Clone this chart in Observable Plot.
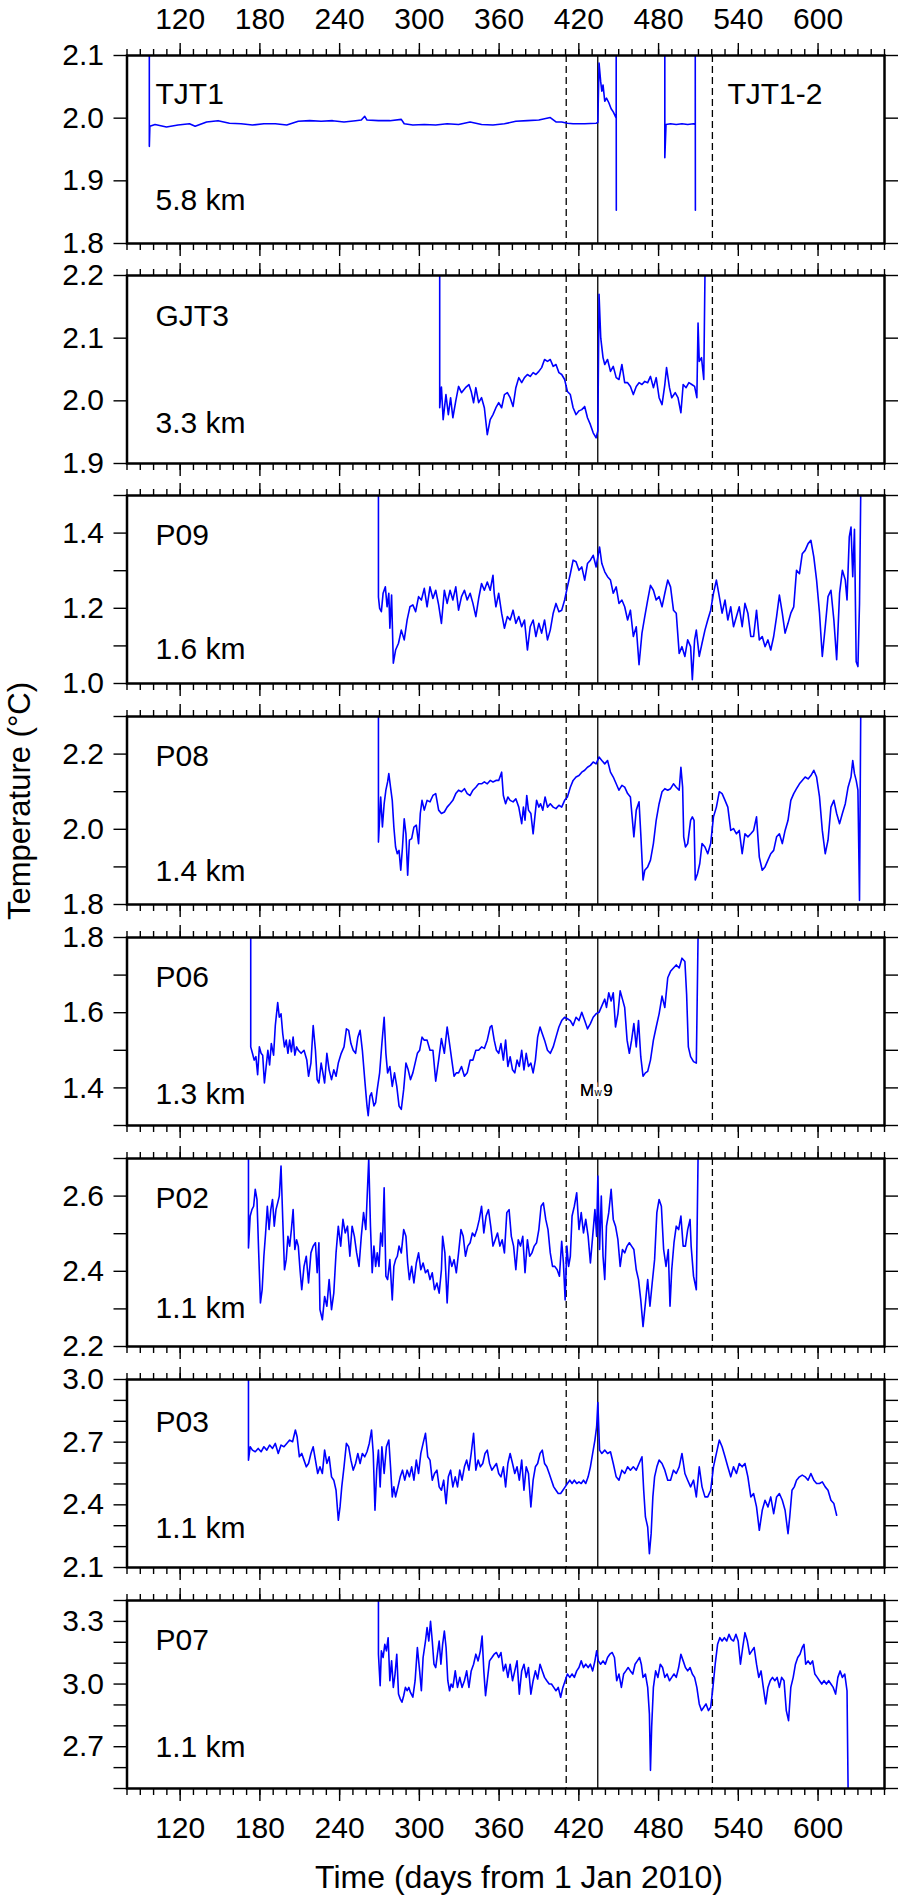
<!DOCTYPE html>
<html><head><meta charset="utf-8">
<script src="https://cdn.jsdelivr.net/npm/d3@7"></script>
<script src="https://cdn.jsdelivr.net/npm/@observablehq/plot@0.6"></script>
<style>
html,body{margin:0;padding:0;background:#fff;}
#chart{position:relative;width:898px;height:1898px;font-family:"Liberation Sans",Arial,Helvetica,sans-serif;color:#000;overflow:hidden;}
.panel{position:absolute;left:0;}
.panel svg{display:block;overflow:visible;}
#ylabsvg{position:absolute;left:0;top:0;}
#xlab{position:absolute;left:219px;top:1857px;width:600px;height:40px;line-height:40px;font-size:32px;text-align:center;white-space:nowrap;}
</style></head><body><div id="chart"></div>
<script>
// ---------- tick labels / categories ----------
const xMajor = [120,180,240,300,360,420,480,540,600];
const xMinor = [80,90,100,110,120,130,140,150,160,170,180,190,200,210,220,230,240,250,260,270,280,290,300,310,320,330,340,350,360,370,380,390,400,410,420,430,440,450,460,470,480,490,500,510,520,530,540,550,560,570,580,590,600,610,620,630,640,650];
const xDomain = [80, 650];
const dashedDays = [410.5, 520.5];
const mainshockDay = 434.24;
const stations = ["TJT1","GJT3","P09","P08","P06","P02","P03","P07"];
const depths = ["5.8 km","3.3 km","1.6 km","1.4 km","1.3 km","1.1 km","1.1 km","1.1 km"];
const yDomains = [[1.8,2.1],[1.9,2.2],[1.0,1.5],[1.8,2.3],[1.3,1.8],[2.2,2.7],[2.1,3.0],[2.5,3.4]];
const yTicks = [[1.8,1.9,2.0,2.1],[1.9,2.0,2.1,2.2],[1.0,1.1,1.2,1.3,1.4,1.5],[1.8,1.9,2.0,2.1,2.2,2.3],[1.3,1.4,1.5,1.6,1.7,1.8],[2.2,2.3,2.4,2.5,2.6,2.7],[2.1,2.2,2.3,2.4,2.5,2.6,2.7,2.8,2.9,3.0],[2.5,2.6,2.7,2.8,2.9,3.0,3.1,3.2,3.3,3.4]];
const yLabels = [[1.8,1.9,2.0,2.1],[1.9,2.0,2.1,2.2],[1.0,1.2,1.4],[1.8,2.0,2.2],[1.4,1.6,1.8],[2.2,2.4,2.6],[2.1,2.4,2.7,3.0],[2.7,3.0,3.3]];
const yTitle = "Temperature (°C)";
const xTitle = "Time (days from 1 Jan 2010)";

// ---------- series values: [day from 1 Jan 2010, temperature °C] ----------
const TJT1 = [[96.8,2.1],[96.8,1.955],[97.2,1.987],[101.1,1.99],[109.7,1.986],[118.4,1.989],[127.0,1.991],[131.3,1.987],[139.9,1.994],[148.5,1.996],[157.1,1.992],[165.8,1.991],[174.4,1.989],[183.0,1.991],[191.6,1.991],[200.2,1.989],[208.9,1.995],[217.5,1.996],[226.1,1.995],[234.7,1.996],[243.3,1.994],[252.0,1.996],[256.3,1.997],[258.9,2.003],[260.6,1.997],[269.2,1.996],[277.8,1.996],[286.4,1.998],[288.6,1.991],[295.1,1.989],[303.7,1.99],[312.3,1.989],[320.9,1.991],[329.5,1.99],[338.2,1.994],[346.8,1.99],[355.4,1.989],[364.0,1.991],[372.6,1.995],[381.3,1.996],[389.9,1.997],[398.5,2.001],[402.8,1.994],[407.1,1.994],[411.4,1.992],[415.7,1.991],[424.4,1.991],[433.0,1.992],[434.3,1.993],[435.2,2.088],[436.4,2.059],[437.3,2.043],[438.2,2.053],[439.5,2.027],[440.8,2.032],[442.5,2.025],[444.3,2.015],[445.9,2.01],[448.1,2.0],[448.1,2.1],[448.2,1.853],[448.2,NaN],
[484.7,2.1],[484.7,1.937],[485.6,1.99],[489.0,1.991],[493.3,1.99],[497.6,1.991],[501.9,1.99],[506.3,1.991],[507.6,1.99],[507.6,2.1],[507.7,1.853]];

const GJT3 = [[315.3,2.2],[315.3,1.989],[316.6,2.022],[317.9,1.97],[320.0,2.01],[321.8,1.978],[323.5,2.005],[325.2,1.973],[327.4,2.0],[329.5,2.023],[331.7,2.013],[334.7,2.021],[337.3,2.026],[339.0,2.015],[340.8,1.997],[342.5,2.021],[344.6,1.997],[346.8,2.005],[348.9,1.989],[351.1,1.946],[353.3,1.97],[355.4,1.978],[357.6,1.989],[359.7,1.997],[361.9,1.989],[364.0,2.01],[366.2,2.013],[368.3,2.005],[370.5,1.991],[372.6,2.021],[374.8,2.037],[377.0,2.029],[379.1,2.037],[381.3,2.042],[383.4,2.039],[385.6,2.045],[387.7,2.042],[389.9,2.047],[392.0,2.053],[394.2,2.066],[396.4,2.063],[398.5,2.066],[400.7,2.055],[402.8,2.058],[405.0,2.045],[407.1,2.042],[409.3,2.034],[411.4,2.015],[413.6,2.01],[415.7,1.989],[417.9,1.978],[420.1,1.984],[422.2,1.986],[424.4,1.991],[426.5,1.973],[428.7,1.962],[430.8,1.949],[433.0,1.941],[434.3,1.952],[435.2,2.17],[436.5,2.1],[438.2,2.069],[439.5,2.058],[441.6,2.066],[443.8,2.047],[445.9,2.055],[448.1,2.037],[450.2,2.034],[452.4,2.058],[454.5,2.029],[456.7,2.029],[458.8,2.023],[461.0,2.01],[463.2,2.023],[465.3,2.029],[467.5,2.026],[469.6,2.031],[471.8,2.029],[473.9,2.039],[476.1,2.021],[478.2,2.037],[480.4,2.005],[482.6,1.994],[484.7,2.026],[486.0,2.053],[488.2,2.021],[489.9,2.005],[492.5,2.013],[494.6,2.005],[496.8,1.981],[498.5,2.026],[500.7,2.021],[502.8,2.029],[505.0,2.026],[507.1,2.023],[508.8,2.005],[509.7,2.124],[510.6,2.063],[512.3,2.069],[514.0,2.034],[514.9,2.2]];

const P09 = [[269.2,1.5],[269.2,1.23],[270.1,1.2],[271.4,1.191],[272.7,1.24],[274.4,1.257],[275.7,1.204],[277.0,1.24],[277.8,1.147],[279.1,1.235],[280.4,1.054],[282.1,1.089],[284.3,1.107],[286.4,1.142],[288.6,1.116],[290.8,1.169],[292.9,1.204],[295.1,1.209],[297.2,1.191],[299.4,1.231],[301.5,1.222],[303.7,1.253],[305.8,1.204],[308.0,1.257],[310.2,1.226],[312.3,1.248],[314.5,1.209],[316.6,1.16],[318.8,1.248],[320.9,1.213],[323.1,1.248],[325.2,1.222],[327.4,1.257],[329.5,1.195],[331.7,1.231],[333.9,1.248],[336.0,1.222],[338.2,1.24],[340.3,1.213],[342.5,1.178],[344.6,1.226],[346.8,1.266],[348.9,1.248],[351.1,1.27],[353.3,1.248],[355.4,1.288],[356.3,1.24],[357.6,1.204],[359.7,1.24],[361.9,1.187],[364.0,1.147],[366.2,1.178],[368.3,1.169],[370.5,1.195],[372.6,1.16],[374.8,1.178],[377.0,1.151],[379.1,1.169],[381.3,1.089],[383.4,1.151],[385.6,1.169],[387.7,1.125],[389.9,1.16],[392.0,1.134],[394.2,1.169],[396.4,1.116],[398.5,1.142],[400.7,1.187],[402.8,1.213],[405.0,1.191],[407.1,1.195],[409.3,1.222],[411.4,1.257],[413.6,1.292],[415.7,1.328],[417.9,1.324],[420.1,1.301],[422.2,1.31],[424.4,1.275],[426.5,1.319],[428.7,1.328],[430.8,1.341],[433.0,1.31],[434.3,1.337],[435.6,1.363],[437.3,1.319],[439.5,1.297],[441.6,1.284],[443.8,1.275],[445.9,1.24],[448.1,1.257],[450.2,1.213],[452.4,1.222],[454.5,1.204],[456.7,1.169],[458.8,1.195],[461.0,1.125],[463.2,1.151],[465.3,1.05],[467.5,1.134],[469.6,1.178],[471.8,1.222],[473.9,1.261],[476.1,1.248],[478.2,1.222],[480.4,1.231],[482.6,1.204],[484.7,1.24],[486.9,1.275],[489.0,1.257],[491.2,1.195],[493.3,1.187],[495.5,1.08],[497.6,1.098],[499.8,1.072],[501.9,1.116],[504.1,1.098],[505.4,1.01],[507.1,1.116],[508.4,1.142],[510.6,1.072],[512.7,1.107],[514.9,1.142],[517.0,1.169],[519.2,1.195],[521.3,1.24],[523.5,1.275],[525.7,1.231],[527.8,1.187],[530.0,1.222],[532.1,1.169],[534.3,1.204],[536.4,1.151],[538.6,1.178],[540.7,1.204],[542.9,1.151],[545.0,1.213],[547.2,1.187],[549.4,1.125],[551.5,1.125],[553.7,1.195],[555.8,1.116],[558.0,1.125],[560.1,1.098],[562.3,1.116],[564.4,1.089],[566.6,1.125],[568.8,1.178],[570.9,1.235],[573.1,1.187],[575.2,1.134],[577.4,1.16],[579.5,1.187],[581.7,1.204],[583.8,1.301],[586.0,1.292],[588.1,1.345],[590.3,1.354],[592.5,1.372],[594.6,1.381],[596.8,1.337],[598.9,1.275],[601.1,1.187],[603.2,1.072],[605.4,1.151],[607.5,1.231],[609.7,1.248],[611.9,1.169],[614.0,1.063],[616.2,1.24],[618.3,1.301],[620.5,1.275],[621.8,1.222],[623.5,1.39],[624.8,1.416],[626.1,1.284],[627.4,1.41],[628.7,1.058],[630.0,1.045],[631.2,1.213],[632.1,1.5]];

const P08 = [[269.2,2.3],[269.2,1.966],[270.9,2.086],[272.2,2.006],[273.5,2.068],[274.8,2.104],[276.1,2.126],[277.0,2.148],[278.3,2.112],[279.6,2.077],[280.8,2.006],[282.1,1.953],[283.4,1.935],[284.7,1.944],[286.0,1.891],[287.3,1.953],[288.6,2.028],[289.9,1.988],[291.2,1.878],[292.5,1.971],[294.2,1.975],[295.9,2.006],[297.7,2.011],[299.4,1.962],[300.7,2.042],[302.0,2.077],[303.7,2.051],[305.8,2.077],[308.0,2.073],[310.2,2.09],[312.3,2.095],[314.5,2.051],[316.6,2.042],[318.8,2.046],[320.9,2.059],[323.1,2.068],[325.2,2.077],[327.4,2.095],[329.5,2.104],[331.7,2.1],[333.9,2.108],[336.0,2.095],[338.2,2.09],[340.3,2.104],[342.5,2.112],[344.6,2.121],[346.8,2.121],[348.9,2.126],[351.1,2.121],[353.3,2.13],[355.4,2.126],[357.6,2.13],[359.7,2.13],[361.9,2.152],[363.2,2.09],[364.9,2.068],[366.6,2.086],[368.3,2.077],[370.5,2.073],[372.6,2.081],[374.8,2.059],[377.0,2.015],[378.3,2.059],[379.5,2.024],[380.8,2.09],[382.1,2.051],[383.9,2.042],[385.6,1.988],[386.9,2.033],[388.2,2.077],[389.9,2.059],[391.2,2.068],[392.9,2.051],[394.6,2.086],[396.4,2.059],[398.5,2.068],[400.7,2.059],[402.8,2.055],[405.0,2.064],[407.1,2.059],[409.3,2.077],[411.4,2.086],[413.6,2.112],[415.7,2.13],[417.9,2.139],[420.1,2.143],[422.2,2.152],[424.4,2.157],[426.5,2.165],[428.7,2.17],[430.8,2.179],[433.0,2.174],[435.2,2.192],[437.3,2.183],[439.5,2.174],[441.6,2.183],[443.8,2.152],[445.9,2.139],[448.1,2.121],[450.2,2.104],[452.4,2.117],[454.5,2.112],[456.7,2.095],[458.8,2.086],[460.1,2.033],[461.4,1.98],[463.2,2.051],[465.3,2.073],[466.6,1.988],[468.3,1.865],[469.6,1.891],[471.8,1.9],[473.9,1.918],[476.1,1.962],[478.2,2.024],[480.4,2.068],[482.6,2.1],[484.7,2.108],[486.9,2.104],[489.0,2.108],[491.2,2.121],[493.3,2.112],[495.5,2.104],[496.8,2.165],[498.1,2.112],[498.9,1.98],[500.2,1.953],[501.9,1.962],[504.1,2.024],[505.4,2.033],[506.7,2.024],[507.6,1.865],[509.3,1.882],[511.0,1.909],[512.7,1.962],[514.9,1.953],[517.0,1.935],[519.2,1.962],[521.3,2.033],[523.5,2.059],[525.7,2.1],[527.8,2.095],[530.0,2.077],[532.1,2.059],[534.3,1.997],[536.4,2.002],[538.6,1.988],[540.7,1.997],[542.9,1.935],[545.0,1.988],[547.2,1.98],[549.4,1.988],[551.5,1.997],[553.7,2.033],[555.8,1.926],[558.0,1.891],[560.1,1.9],[562.3,1.918],[564.4,1.935],[566.6,1.944],[568.8,1.98],[570.9,1.988],[573.1,1.962],[575.2,1.997],[577.4,2.024],[579.5,2.077],[581.7,2.095],[583.8,2.108],[586.0,2.121],[588.1,2.13],[590.3,2.139],[592.5,2.134],[594.6,2.143],[596.8,2.157],[598.9,2.139],[601.1,2.086],[603.2,1.997],[605.4,1.935],[607.5,1.971],[609.7,2.059],[611.9,2.077],[614.0,2.042],[616.2,2.015],[618.3,2.042],[620.5,2.068],[622.6,2.112],[624.8,2.139],[626.1,2.183],[627.4,2.148],[628.7,2.13],[630.0,2.104],[631.2,1.811],[632.1,2.3]];

const P06 = [[173.1,1.8],[173.1,1.509],[174.4,1.492],[175.7,1.474],[177.0,1.483],[178.3,1.435],[179.6,1.509],[180.9,1.492],[182.1,1.487],[183.4,1.413],[184.7,1.457],[186.0,1.5],[187.3,1.461],[188.6,1.518],[190.3,1.487],[191.6,1.566],[193.4,1.627],[194.6,1.588],[195.9,1.597],[197.2,1.544],[198.5,1.509],[199.8,1.527],[201.1,1.492],[202.4,1.527],[203.7,1.496],[205.0,1.535],[206.3,1.487],[207.6,1.509],[208.9,1.5],[211.0,1.492],[213.2,1.5],[215.3,1.474],[216.6,1.431],[218.4,1.466],[220.1,1.566],[221.8,1.5],[223.1,1.422],[224.4,1.413],[226.1,1.466],[227.4,1.44],[228.7,1.413],[230.4,1.492],[232.1,1.448],[233.9,1.422],[235.6,1.448],[237.3,1.431],[239.0,1.466],[241.2,1.492],[243.3,1.509],[245.1,1.557],[246.8,1.553],[248.5,1.518],[250.2,1.5],[252.0,1.492],[253.7,1.535],[255.4,1.553],[257.1,1.5],[258.9,1.422],[260.6,1.352],[261.5,1.326],[262.8,1.378],[264.0,1.387],[265.8,1.352],[267.1,1.361],[268.3,1.396],[270.1,1.44],[271.8,1.518],[273.5,1.588],[274.8,1.492],[276.1,1.44],[277.8,1.457],[279.6,1.404],[281.3,1.44],[283.0,1.404],[284.7,1.352],[286.4,1.343],[288.2,1.396],[289.9,1.466],[291.6,1.448],[293.3,1.422],[295.1,1.44],[296.8,1.466],[298.5,1.492],[300.2,1.5],[302.0,1.535],[303.7,1.527],[305.8,1.527],[308.0,1.5],[310.2,1.5],[312.3,1.418],[314.5,1.474],[316.6,1.531],[318.8,1.492],[320.9,1.562],[322.7,1.518],[324.4,1.474],[326.1,1.431],[327.8,1.44],[329.5,1.44],[331.7,1.457],[333.9,1.431],[336.0,1.44],[338.2,1.474],[340.3,1.474],[342.5,1.5],[344.6,1.5],[346.8,1.509],[348.9,1.505],[351.1,1.527],[353.3,1.562],[354.5,1.566],[356.3,1.527],[358.0,1.5],[359.7,1.492],[361.4,1.518],[363.2,1.474],[364.9,1.527],[366.6,1.457],[368.3,1.483],[370.1,1.448],[371.8,1.44],[373.5,1.474],[375.2,1.457],[377.0,1.5],[378.7,1.448],[380.4,1.492],[382.1,1.457],[383.9,1.466],[385.6,1.44],[387.3,1.474],[389.0,1.535],[390.8,1.562],[392.5,1.544],[394.2,1.527],[396.4,1.5],[398.5,1.492],[400.7,1.509],[402.8,1.535],[405.0,1.562],[407.1,1.579],[409.3,1.588],[411.4,1.584],[413.6,1.579],[415.7,1.566],[417.9,1.588],[420.1,1.579],[422.2,1.601],[424.4,1.579],[426.5,1.557],[428.7,1.571],[430.8,1.588],[433.0,1.597],[435.2,1.601],[437.3,1.618],[439.5,1.636],[440.8,1.614],[442.5,1.653],[444.3,1.631],[445.9,1.653],[447.6,1.562],[449.4,1.597],[451.1,1.658],[452.8,1.636],[454.5,1.614],[456.3,1.527],[458.0,1.492],[459.7,1.527],[461.4,1.571],[463.2,1.509],[464.9,1.579],[466.6,1.483],[468.3,1.431],[470.1,1.44],[471.8,1.444],[473.9,1.474],[476.1,1.527],[478.2,1.562],[480.4,1.597],[482.6,1.644],[484.7,1.614],[486.9,1.693],[489.0,1.71],[491.2,1.719],[493.3,1.727],[495.5,1.719],[497.6,1.745],[499.8,1.736],[501.1,1.649],[502.4,1.509],[504.1,1.483],[506.3,1.47],[508.4,1.466],[509.7,1.8]];

const P02 = [[171.4,2.7],[171.4,2.462],[172.7,2.547],[174.0,2.564],[175.3,2.573],[176.5,2.618],[177.8,2.591],[179.1,2.449],[180.4,2.316],[181.7,2.351],[183.0,2.44],[184.3,2.502],[185.6,2.573],[186.9,2.511],[188.2,2.564],[189.5,2.591],[190.8,2.52],[192.1,2.564],[193.4,2.582],[194.6,2.6],[195.9,2.68],[197.2,2.538],[198.5,2.404],[199.8,2.431],[201.1,2.493],[202.4,2.467],[203.7,2.511],[205.0,2.564],[206.3,2.458],[207.6,2.484],[208.9,2.467],[210.2,2.404],[211.5,2.351],[213.2,2.413],[214.9,2.44],[216.6,2.369],[218.4,2.449],[220.1,2.467],[221.8,2.476],[223.1,2.396],[224.4,2.476],[225.2,2.298],[227.0,2.271],[228.7,2.333],[230.4,2.307],[232.1,2.378],[233.9,2.298],[235.6,2.342],[237.3,2.449],[239.0,2.52],[240.8,2.467],[242.5,2.538],[244.2,2.502],[245.9,2.52],[247.7,2.44],[249.4,2.52],[251.1,2.493],[252.8,2.449],[254.6,2.413],[256.3,2.493],[258.0,2.556],[259.7,2.511],[261.9,2.7],[263.2,2.52],[264.5,2.396],[265.8,2.467],[267.1,2.413],[268.3,2.449],[269.6,2.413],[270.9,2.502],[272.2,2.467],[273.5,2.622],[274.8,2.387],[276.1,2.378],[277.8,2.431],[279.6,2.324],[280.8,2.413],[282.1,2.431],[283.4,2.44],[284.7,2.467],[286.4,2.449],[288.2,2.511],[289.9,2.493],[291.2,2.422],[292.5,2.378],[294.2,2.413],[295.9,2.369],[297.7,2.422],[299.4,2.449],[301.1,2.404],[302.8,2.422],[304.6,2.396],[306.3,2.404],[308.0,2.378],[309.7,2.396],[311.4,2.351],[313.2,2.369],[314.9,2.342],[316.6,2.404],[317.5,2.493],[319.2,2.449],[320.9,2.316],[322.7,2.44],[324.4,2.413],[326.1,2.431],[327.8,2.396],[329.5,2.449],[331.3,2.511],[333.0,2.493],[334.7,2.44],[336.4,2.467],[338.2,2.476],[339.9,2.502],[341.6,2.493],[343.3,2.511],[345.1,2.538],[346.8,2.573],[348.5,2.502],[350.2,2.547],[352.0,2.564],[353.7,2.52],[355.4,2.467],[357.1,2.484],[358.8,2.502],[360.6,2.467],[362.3,2.484],[364.0,2.449],[365.8,2.556],[367.5,2.564],[369.2,2.493],[370.9,2.467],[372.6,2.404],[374.4,2.484],[376.1,2.467],[377.8,2.493],[379.5,2.396],[381.3,2.484],[383.0,2.44],[384.7,2.449],[386.4,2.467],[388.2,2.476],[389.9,2.511],[391.6,2.573],[393.3,2.582],[395.1,2.538],[396.8,2.511],[398.5,2.449],[400.2,2.413],[401.9,2.413],[403.7,2.404],[405.4,2.387],[407.1,2.48],[408.4,2.422],[409.7,2.324],[411.0,2.467],[412.3,2.413],[413.6,2.44],[414.9,2.547],[416.6,2.573],[418.4,2.609],[420.1,2.511],[421.8,2.556],[423.5,2.502],[425.2,2.538],[427.0,2.493],[428.7,2.422],[430.4,2.493],[432.1,2.564],[433.4,2.493],[434.3,2.653],[435.6,2.458],[436.9,2.6],[438.2,2.44],[439.5,2.378],[440.8,2.52],[442.5,2.556],[444.3,2.618],[445.9,2.538],[447.6,2.52],[449.4,2.484],[451.1,2.413],[452.8,2.458],[454.5,2.449],[456.3,2.467],[458.0,2.476],[459.7,2.467],[461.4,2.458],[463.2,2.404],[464.9,2.378],[466.6,2.324],[468.3,2.253],[470.1,2.316],[471.8,2.378],[473.5,2.307],[475.2,2.369],[477.0,2.431],[478.7,2.556],[480.4,2.591],[482.1,2.573],[483.8,2.458],[485.6,2.413],[487.3,2.458],[488.6,2.307],[489.9,2.404],[491.6,2.476],[493.3,2.52],[495.1,2.511],[496.8,2.547],[498.5,2.467],[500.2,2.467],[501.9,2.511],[503.7,2.538],[504.5,2.467],[506.3,2.387],[508.4,2.351],[509.7,2.7]];

const P03 = [[171.4,3.0],[171.4,2.614],[172.7,2.678],[174.4,2.662],[176.5,2.654],[178.7,2.67],[180.9,2.654],[183.0,2.678],[185.2,2.662],[187.3,2.686],[189.5,2.67],[191.6,2.694],[193.8,2.646],[195.9,2.686],[198.1,2.678],[200.2,2.694],[202.4,2.71],[204.6,2.702],[206.7,2.758],[208.0,2.726],[209.7,2.63],[211.5,2.646],[213.2,2.614],[214.9,2.582],[216.6,2.598],[218.4,2.646],[220.1,2.678],[221.8,2.614],[223.5,2.55],[225.2,2.582],[227.0,2.55],[228.7,2.662],[230.4,2.598],[232.1,2.63],[233.9,2.534],[235.6,2.518],[237.3,2.47],[239.0,2.326],[240.3,2.39],[241.6,2.486],[243.3,2.582],[245.1,2.694],[246.8,2.678],[248.5,2.614],[250.2,2.566],[252.0,2.598],[253.7,2.646],[255.4,2.598],[257.1,2.646],[258.9,2.63],[260.6,2.654],[262.3,2.694],[264.0,2.758],[265.3,2.646],[266.6,2.374],[267.9,2.566],[269.2,2.662],[270.5,2.486],[271.8,2.678],[273.5,2.55],[275.2,2.678],[277.0,2.71],[278.3,2.582],[279.6,2.438],[280.8,2.486],[282.1,2.438],[283.9,2.486],[285.6,2.534],[287.3,2.566],[289.0,2.518],[290.8,2.566],[292.5,2.534],[294.2,2.582],[295.9,2.518],[297.7,2.614],[299.4,2.55],[301.1,2.646],[302.8,2.694],[304.6,2.742],[306.3,2.63],[308.0,2.614],[309.7,2.518],[311.4,2.55],[313.2,2.566],[314.9,2.486],[316.6,2.47],[318.3,2.518],[320.1,2.406],[321.8,2.534],[323.5,2.566],[325.2,2.486],[327.0,2.534],[328.7,2.486],[330.4,2.566],[332.1,2.518],[333.9,2.582],[335.6,2.614],[337.3,2.566],[339.0,2.646],[340.8,2.742],[342.5,2.566],[344.2,2.614],[345.9,2.582],[347.7,2.598],[349.4,2.646],[351.1,2.662],[352.8,2.598],[354.6,2.566],[356.3,2.582],[358.0,2.598],[359.7,2.55],[361.4,2.534],[363.2,2.582],[364.9,2.486],[366.6,2.598],[368.3,2.646],[370.1,2.598],[371.8,2.55],[373.5,2.582],[375.2,2.518],[377.0,2.614],[378.7,2.47],[380.4,2.582],[382.1,2.55],[383.9,2.39],[385.6,2.518],[387.3,2.582],[389.0,2.598],[390.8,2.646],[392.5,2.662],[394.2,2.598],[395.9,2.582],[397.7,2.55],[399.4,2.518],[401.1,2.486],[402.8,2.47],[404.5,2.454],[406.3,2.454],[408.0,2.47],[409.7,2.486],[411.4,2.502],[413.2,2.518],[414.9,2.502],[416.6,2.518],[418.4,2.502],[420.1,2.51],[421.8,2.502],[423.5,2.518],[425.2,2.502],[427.0,2.534],[428.7,2.582],[430.4,2.646],[432.1,2.71],[433.4,2.774],[434.3,2.89],[435.6,2.662],[437.3,2.646],[439.5,2.662],[441.6,2.646],[443.8,2.654],[445.9,2.598],[448.1,2.534],[450.2,2.518],[452.4,2.566],[454.5,2.55],[456.7,2.582],[458.8,2.566],[461.0,2.582],[463.2,2.566],[465.3,2.598],[467.5,2.63],[468.8,2.47],[470.1,2.342],[471.8,2.294],[473.1,2.166],[474.4,2.262],[475.7,2.438],[477.0,2.534],[478.7,2.582],[480.4,2.614],[482.6,2.598],[484.7,2.566],[486.9,2.518],[489.0,2.518],[491.2,2.566],[493.3,2.55],[495.5,2.582],[497.6,2.646],[499.8,2.55],[501.9,2.518],[504.1,2.486],[506.3,2.518],[508.4,2.438],[510.6,2.582],[512.7,2.486],[514.9,2.438],[517.0,2.438],[519.2,2.47],[521.3,2.582],[523.5,2.646],[525.7,2.71],[527.8,2.678],[530.0,2.63],[532.1,2.582],[534.3,2.534],[536.4,2.582],[538.6,2.55],[540.7,2.598],[542.9,2.582],[545.0,2.598],[547.2,2.534],[549.4,2.438],[551.5,2.454],[553.7,2.39],[555.8,2.278],[558.0,2.374],[560.1,2.422],[562.3,2.39],[564.4,2.438],[566.6,2.358],[568.8,2.438],[570.9,2.454],[573.1,2.422],[575.2,2.374],[577.4,2.262],[578.7,2.342],[580.4,2.47],[582.1,2.486],[583.8,2.518],[586.0,2.534],[588.1,2.542],[590.3,2.534],[592.5,2.518],[594.6,2.55],[596.8,2.518],[598.9,2.502],[601.1,2.502],[603.2,2.51],[605.4,2.486],[607.5,2.47],[609.7,2.422],[611.9,2.406],[614.0,2.35]];

const P07 = [[269.2,3.4],[269.2,3.143],[270.5,2.992],[271.4,3.159],[272.7,3.127],[274.0,3.19],[275.2,3.159],[276.5,3.222],[277.8,3.016],[279.1,3.111],[280.4,2.984],[281.7,3.048],[283.0,3.143],[284.3,2.952],[285.6,2.929],[286.9,2.913],[288.2,2.944],[289.5,2.984],[290.8,2.968],[292.1,2.984],[293.3,2.96],[295.1,2.937],[296.8,3.016],[298.5,3.175],[300.2,3.063],[301.5,2.968],[302.8,3.127],[304.6,3.206],[305.8,3.27],[307.1,3.206],[308.4,3.3],[309.7,3.206],[311.0,3.095],[312.3,3.079],[313.6,3.143],[314.9,3.206],[316.2,3.095],[317.5,3.19],[318.8,3.254],[320.1,3.175],[321.4,3.016],[322.7,2.968],[323.9,3.0],[325.2,2.984],[327.0,3.063],[328.7,2.984],[330.4,3.032],[332.1,2.984],[333.9,3.016],[335.6,3.063],[337.3,2.984],[339.0,3.063],[340.8,3.095],[342.5,3.143],[344.2,3.111],[345.9,3.159],[347.2,3.23],[348.5,3.063],[349.8,2.944],[351.1,3.016],[352.8,3.111],[354.6,3.127],[356.3,3.143],[358.0,3.151],[359.7,3.127],[361.4,3.151],[363.2,3.063],[364.9,3.095],[366.6,3.032],[368.3,3.095],[370.1,3.016],[371.8,3.063],[373.5,3.111],[375.2,2.952],[377.0,3.063],[378.7,3.095],[380.4,3.032],[382.1,3.079],[383.9,2.952],[385.6,3.016],[387.3,3.063],[389.0,3.024],[390.8,3.095],[392.5,3.063],[394.2,3.032],[395.9,3.016],[397.7,3.0],[399.4,3.0],[401.1,2.984],[402.8,2.968],[404.5,2.984],[406.3,2.937],[408.0,2.984],[409.7,3.016],[411.4,3.048],[413.2,3.032],[414.9,3.048],[416.6,3.032],[418.4,3.063],[420.1,3.079],[421.8,3.111],[423.5,3.079],[425.2,3.095],[427.0,3.079],[428.7,3.095],[430.4,3.063],[432.1,3.111],[433.4,3.159],[434.7,3.111],[436.4,3.095],[438.2,3.111],[439.9,3.095],[441.6,3.127],[443.3,3.143],[445.1,3.151],[446.8,3.127],[448.5,3.016],[450.2,3.048],[452.0,2.984],[453.7,3.048],[455.4,3.063],[457.1,3.079],[458.8,3.063],[460.6,3.048],[462.3,3.095],[464.0,3.111],[465.7,3.127],[467.0,3.095],[468.3,3.032],[470.1,3.048],[471.8,2.984],[473.1,2.857],[473.9,2.587],[474.8,2.794],[476.1,2.984],[477.8,3.063],[479.5,3.032],[481.3,3.095],[483.0,3.079],[484.7,3.032],[486.4,3.048],[488.2,3.016],[489.9,3.032],[491.6,3.048],[493.3,3.032],[495.1,3.079],[496.8,3.143],[498.5,3.111],[500.2,3.079],[501.9,3.063],[503.7,3.079],[505.4,3.048],[507.1,3.032],[508.8,2.984],[510.6,2.905],[512.3,2.873],[514.0,2.889],[515.7,2.905],[517.5,2.873],[519.2,2.889],[520.9,2.984],[522.6,3.095],[524.4,3.19],[526.1,3.222],[527.8,3.206],[529.5,3.222],[531.3,3.206],[533.0,3.238],[534.7,3.214],[536.4,3.206],[538.2,3.238],[539.9,3.206],[541.6,3.095],[543.3,3.175],[545.0,3.246],[546.8,3.206],[548.5,3.143],[550.2,3.159],[551.9,3.175],[553.7,3.095],[555.4,3.032],[557.1,3.063],[558.8,2.984],[560.6,2.905],[562.3,2.984],[564.0,3.016],[565.7,3.032],[567.5,3.016],[569.2,3.032],[570.9,2.984],[572.6,3.032],[574.4,3.016],[576.1,2.873],[577.8,2.825],[579.5,2.984],[581.3,3.032],[583.0,3.095],[584.7,3.127],[586.4,3.143],[588.1,3.175],[589.4,3.19],[590.7,3.095],[592.5,3.111],[594.2,3.095],[595.9,3.111],[597.6,3.048],[599.4,3.032],[601.1,3.016],[602.8,3.0],[604.5,3.016],[606.3,3.0],[608.0,3.016],[609.7,3.0],[611.4,2.984],[613.2,2.952],[614.9,3.032],[616.6,3.063],[618.3,3.032],[620.1,3.048],[621.8,2.968],[622.6,2.5]];

const series = [TJT1, GJT3, P09, P08, P06, P02, P03, P07];

// ---------- layout ----------
const W = 898, ML = 126.5, MR = 14, PH = 188;
const panelTops = [55, 274.5, 495.3, 716, 937, 1158, 1379, 1600];
const nameDy = [48, 50, 49, 49, 49, 49, 52, 49];
const depthDy = [154, 157, 163, 164, 166, 159, 158, 156];
const FONT = "'Liberation Sans', Arial, Helvetica, sans-serif";
const BLUE = "#0000ff";

const chart = document.getElementById("chart");
const fmt = d => d.toFixed(1);

series.forEach((data, i) => {
  const first = i === 0, last = i === series.length - 1;
  const mt = first ? 55 : 16;
  const mb = last ? 70 : 16;
  const marks = [
    Plot.ruleX(dashedDays, {stroke: "black", strokeWidth: 1.3, strokeDasharray: "7,4"}),
    Plot.ruleX([mainshockDay], {stroke: "black", strokeWidth: 1.3}),
    Plot.line(data, {x: d => d[0], y: d => d[1], stroke: BLUE, strokeWidth: 1.6, clip: true}),
    Plot.frame({stroke: "black", strokeWidth: 2.5}),
    Plot.axisX(xMinor, {anchor: "top", tickSize: 7, strokeWidth: 1.4, fill: "none", label: null}),
    Plot.axisX(xMajor, {anchor: "top", tickSize: 13, strokeWidth: 1.4, fill: "none", label: null}),
    Plot.axisX(xMinor, {anchor: "bottom", tickSize: 7, strokeWidth: 1.4, fill: "none", label: null}),
    Plot.axisX(xMajor, {anchor: "bottom", tickSize: 13, strokeWidth: 1.4, fill: "none", label: null}),
    Plot.axisY(yTicks[i], {anchor: "left", tickSize: 13, strokeWidth: 1.4, fill: "none", label: null}),
    Plot.axisY(yTicks[i], {anchor: "right", tickSize: 13, strokeWidth: 1.4, fill: "none", label: null}),
    Plot.axisY(yLabels[i], {anchor: "left", tickSize: 0, tickPadding: 23, fontSize: 30, tickFormat: fmt, label: null}),
    Plot.text([stations[i]], {frameAnchor: "top-left", dx: 28.5, dy: nameDy[i], lineAnchor: "bottom", textAnchor: "start", fontSize: 30, fill: "black"}),
    Plot.text([depths[i]], {frameAnchor: "top-left", dx: 28.5, dy: depthDy[i], lineAnchor: "bottom", textAnchor: "start", fontSize: 30, fill: "black"})
  ];
  if (first) {
    marks.push(Plot.axisX(xMajor, {anchor: "top", tickSize: 0, tickPadding: 27, fontSize: 30, label: null}));
    marks.push(Plot.text(["TJT1-2"], {x: [dashedDays[1]], frameAnchor: "top", dx: 15, dy: nameDy[i], lineAnchor: "bottom", textAnchor: "start", fontSize: 30, fill: "black"}));
  }
  if (last) {
    marks.push(Plot.axisX(xMajor, {anchor: "bottom", tickSize: 0, tickPadding: 28, fontSize: 30, label: null}));
  }
  if (stations[i] === "P06") {
    marks.push(Plot.text(["M"], {x: [mainshockDay], frameAnchor: "top", dx: -3.5, dy: 158, lineAnchor: "bottom", textAnchor: "end", fontSize: 17, fill: "black", stroke: "white", strokeWidth: 9}));
    marks.push(Plot.text(["9"], {x: [mainshockDay], frameAnchor: "top", dx: 5.5, dy: 158, lineAnchor: "bottom", textAnchor: "start", fontSize: 17, fill: "black", stroke: "white", strokeWidth: 6}));
    marks.push(Plot.text(["w"], {x: [mainshockDay], frameAnchor: "top", dx: -3.2, dy: 158, lineAnchor: "bottom", textAnchor: "start", fontSize: 10, fill: "black", stroke: "white", strokeWidth: 6}));
    marks.push(Plot.text(["M"], {x: [mainshockDay], frameAnchor: "top", dx: -3.5, dy: 158, lineAnchor: "bottom", textAnchor: "end", fontSize: 17, fill: "black"}));
    marks.push(Plot.text(["9"], {x: [mainshockDay], frameAnchor: "top", dx: 5.5, dy: 158, lineAnchor: "bottom", textAnchor: "start", fontSize: 17, fill: "black"}));
  }
  const svg = Plot.plot({
    width: W,
    height: mt + PH + mb,
    marginLeft: ML, marginRight: MR, marginTop: mt, marginBottom: mb,
    x: {domain: xDomain},
    y: {domain: yDomains[i]},
    style: {fontFamily: FONT, fontSize: "30px", background: "transparent", color: "black", overflow: "visible"},
    marks
  });
  const div = document.createElement("div");
  div.className = "panel";
  div.style.top = (panelTops[i] - mt) + "px";
  div.appendChild(svg);
  chart.appendChild(div);
});

// y-axis title as SVG text (rotated)
const ysvg = d3.create("svg").attr("id", "ylabsvg").attr("width", 50).attr("height", 1898);
ysvg.append("text")
  .attr("transform", "translate(30,801) rotate(-90)")
  .attr("text-anchor", "middle")
  .attr("font-family", FONT)
  .attr("font-size", 31)
  .attr("fill", "black")
  .text(yTitle);
chart.appendChild(ysvg.node());

const xlab = document.createElement("div");
xlab.id = "xlab";
xlab.textContent = xTitle;
chart.appendChild(xlab);
</script></body></html>
